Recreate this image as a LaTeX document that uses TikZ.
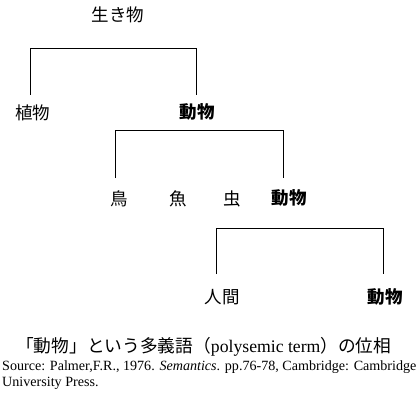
\documentclass[tikz,border=0pt]{standalone}
\usepackage{fontspec}
\setmainfont{Liberation Serif}
\newfontfamily\jp{Noto Sans CJK JP}
\begin{document}
\begin{tikzpicture}[x=1pt,y=-1pt,
  lbl/.style={inner sep=0pt,font=\jp\fontsize{17.5}{20}\selectfont},
  blbl/.style={inner sep=0pt,font=\jp\fontsize{17.5}{20}\selectfont\bfseries},
  brk/.style={draw=black,line width=0.7pt}]
\useasboundingbox (0,0) rectangle (420,401);
\node[lbl] (root) at (118,15) {生き物};
\node[lbl] (plant) at (33,113) {植物};
\node[blbl] (anim1) at (197,112) {動物};
\node[lbl] (bird) at (119,199) {鳥};
\node[lbl] (fish) at (178,199) {魚};
\node[lbl] (bug) at (232,199) {虫};
\node[blbl] (anim2) at (289,198) {動物};
\node[lbl] (human) at (222,297) {人間};
\node[blbl] (anim3) at (385,297) {動物};
\coordinate (b1l) at (30,95);
\coordinate (b1r) at (196,95);
\coordinate (b2l) at (115,178);
\coordinate (b2r) at (283,178);
\coordinate (b3l) at (216.5,274);
\coordinate (b3r) at (383,274);
\draw[brk] (b1l) -- (30,48) -- (196,48) -- (b1r);
\draw[brk] (b2l) -- (115,130.5) -- (283,130.5) -- (b2r);
\draw[brk] (b3l) -- (216.5,228) -- (383,228) -- (b3r);
\node[anchor=west,inner sep=0pt,font=\fontsize{17.7}{20}\selectfont] (cap) at (16,347) {{\jp 「動物」という多義語（}polysemic term{\jp ）の位相}};
\node[anchor=north west,inner sep=0pt,align=left,font=\fontsize{14.1}{15.5}\selectfont] (src) at (2,361) {Source: Palmer,F.R., 1976. \textit{Semantics}. pp.76-78, Cambridge: Cambridge\\University Press.};
\end{tikzpicture}
\end{document}
